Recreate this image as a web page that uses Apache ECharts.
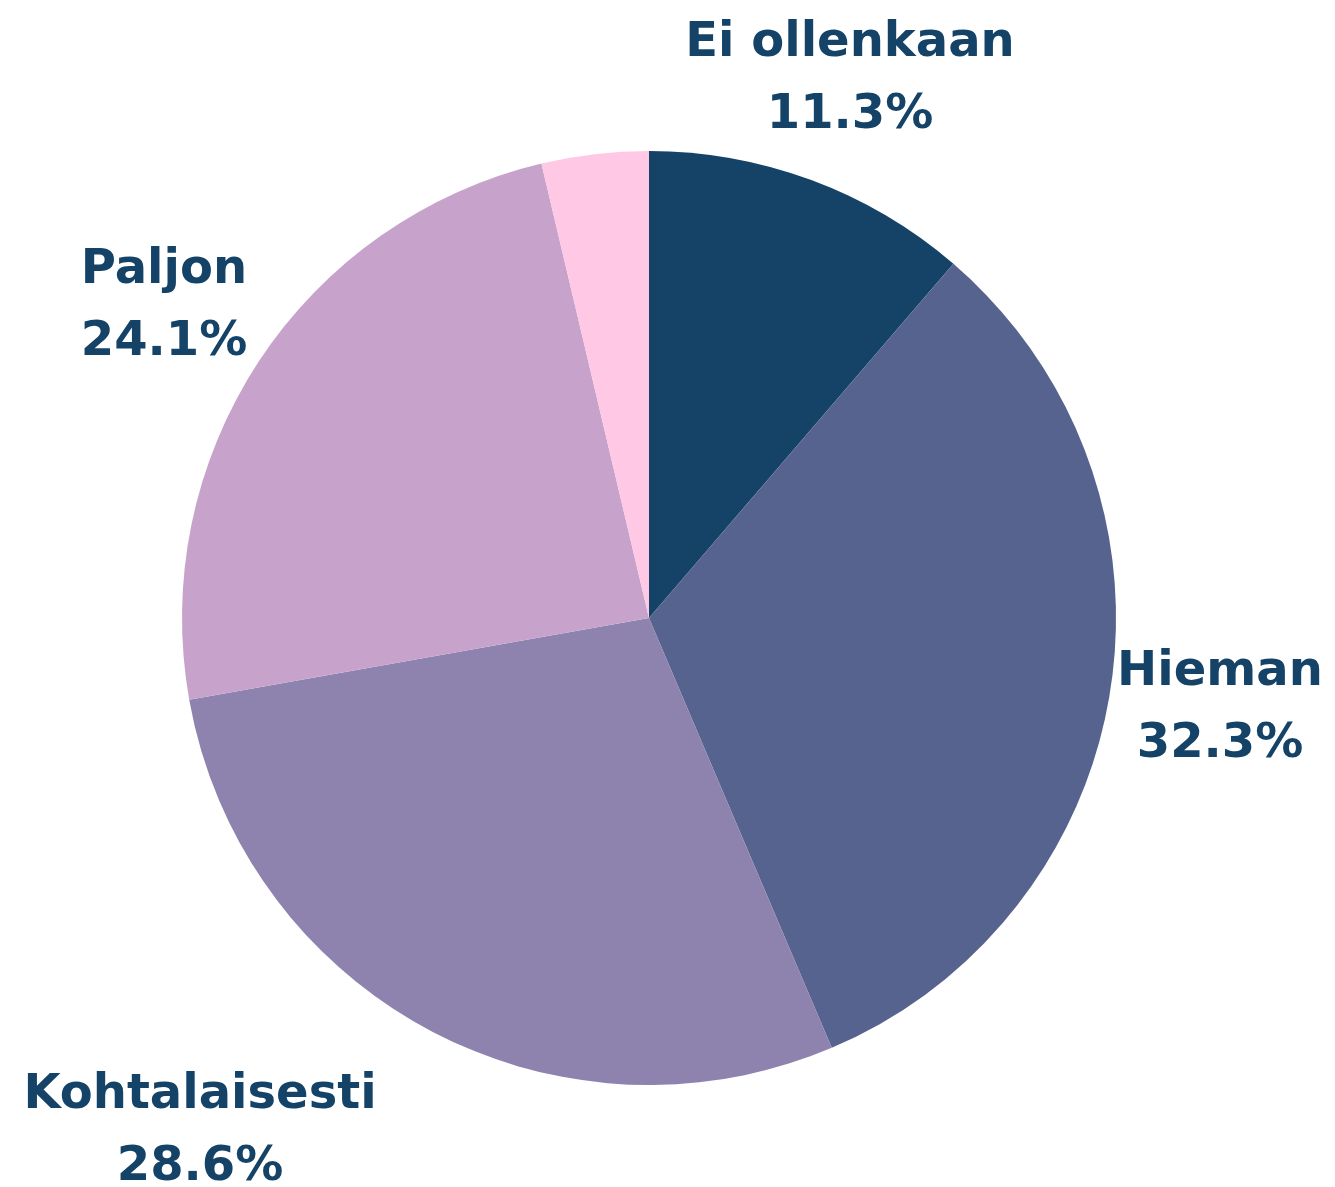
<!DOCTYPE html>
<html>
<head>
<meta charset="utf-8">
<script src="https://cdn.jsdelivr.net/npm/echarts@6/dist/echarts.min.js"></script>
<style>
  html, body { margin: 0; padding: 0; background: #fff; }
  #main { width: 1335px; height: 1187px; }
</style>
</head>
<body>
<div id="main"></div>
<script>
// data
var categories = ['Ei ollenkaan', 'Hieman', 'Kohtalaisesti', 'Paljon', ''];
var values = [11.3, 32.3, 28.6, 24.1, 3.7];
var colors = ['#144367', '#56638e', '#8e82ae', '#c7a3cc', '#ffc8e5'];
// label centres (text only)
var labelPos = [[850, 80], [1220, 709], [200, 1132], [164, 307], null];

var myChart = echarts.init(document.getElementById('main'));

var option = {
    animation: false,
    series: [
        {
            type: 'pie',
            center: [649, 618],
            radius: [0, 467],
            startAngle: 90,
            clockwise: true,
            data: categories.map(function (name, i) {
                return {
                    name: name,
                    value: values[i],
                    itemStyle: { color: colors[i] },
                    label: { show: name !== '' }
                };
            }),
            label: {
                position: 'outside',
                formatter: function (p) {
                    return p.name + '\n' + p.value.toFixed(1) + '%';
                },
                color: '#144367',
                fontFamily: 'DejaVu Sans',
                fontWeight: 'bold',
                fontSize: 48,
                lineHeight: 72,
                overflow: 'none'
            },
            labelLine: { show: false },
            labelLayout: function (params) {
                var pos = labelPos[params.dataIndex];
                if (!pos) return {};
                return {
                    x: pos[0],
                    y: pos[1],
                    align: 'center',
                    verticalAlign: 'middle'
                };
            }
        }
    ]
};

myChart.setOption(option);
</script>
</body>
</html>
